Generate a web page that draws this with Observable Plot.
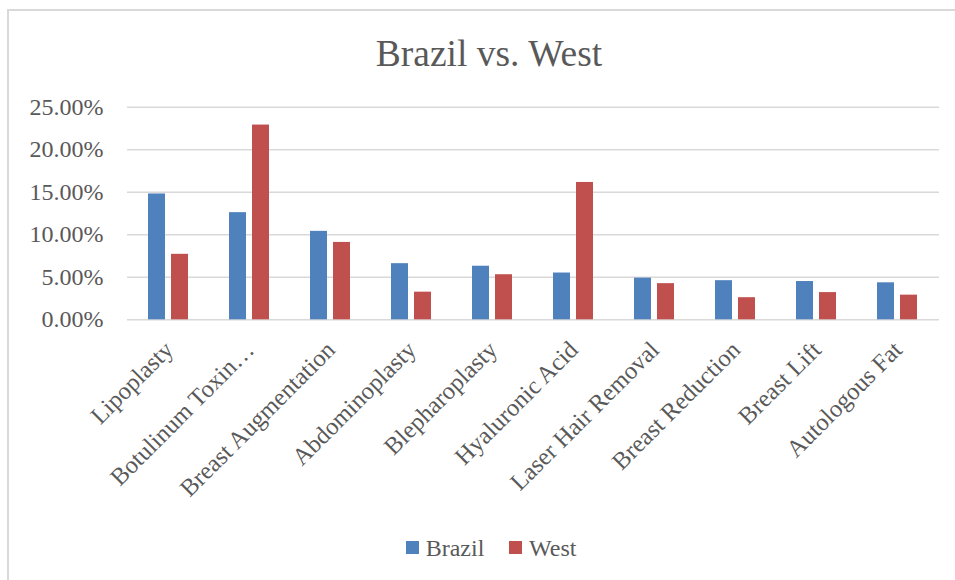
<!DOCTYPE html>
<html><head><meta charset="utf-8">
<script src="https://cdn.jsdelivr.net/npm/d3@7"></script>
<script src="https://cdn.jsdelivr.net/npm/@observablehq/plot@0.6"></script>
<style>
body{margin:0;background:#fff;width:955px;height:580px;overflow:hidden;position:relative;font-family:"Liberation Serif",serif;color:#595959}
#frame{position:absolute;left:7px;top:9px;width:1000px;height:600px;border-top:2px solid #d9d9d9;border-left:2px solid #d9d9d9}
#title{position:absolute;left:0;top:34.5px;width:978px;text-align:center;font-size:37.5px;line-height:37.5px;white-space:nowrap}
.layer{position:absolute;left:0;top:0}
#legend{position:absolute;left:406px;top:535.6px;font-size:24px;line-height:24px;white-space:nowrap}
#legend .sw{display:inline-block;width:13px;height:13px;position:relative;top:-1.4px;margin-right:6.7px}
#legend .item{margin-right:25px}
</style></head><body>
<div id="frame"></div>
<div id="title">Brazil vs. West</div>
<div id="grid" class="layer"></div>
<div id="bars" class="layer"></div>
<div id="legend"></div>
<script>
const categories = ["Lipoplasty","Botulinum Toxin…","Breast Augmentation","Abdominoplasty","Blepharoplasty","Hyaluronic Acid","Laser Hair Removal","Breast Reduction","Breast Lift","Autologous Fat"];
const series = ["Brazil","West"];
const brazil = [0.148,0.126,0.104,0.066,0.063,0.055,0.049,0.046,0.045,0.0435];
const west = [0.077,0.229,0.091,0.0325,0.053,0.1615,0.0425,0.026,0.032,0.029];
const colors = ["#4F81BD","#C0504D"];
const yTicks = [0,0.05,0.10,0.15,0.20,0.25];

const rows = categories.flatMap((c,i)=>[
  {category:c, series:series[0], value:brazil[i]},
  {category:c, series:series[1], value:west[i]}
]);

const common = {
  width:955, height:520,
  marginTop:106.7, marginBottom:200.7, marginLeft:127, marginRight:16
};
const baseStyle = {fontFamily:'"Liberation Serif", serif', color:"#595959", background:"transparent", overflow:"visible"};

// Background layer: y axis labels and gridlines across the full plot width
const gridChart = Plot.plot({
  ...common,
  style:{...baseStyle, fontSize:"24px"},
  x:{domain:categories, axis:null},
  y:{domain:[0,0.25], ticks:yTicks, tickFormat:d3.format(".2%"), label:null, tickSize:0, tickPadding:24},
  marks:[
    Plot.ruleY(yTicks, {stroke:"#d9d9d9", strokeWidth:1.5})
  ]
});
document.getElementById("grid").appendChild(gridChart);

// Foreground layer: grouped bars and category labels
const barChart = Plot.plot({
  ...common,
  style:{...baseStyle, fontSize:"24.5px"},
  fx:{domain:categories, paddingInner:0.49, paddingOuter:0.245, label:null, axis:"bottom", tickRotate:-45, tickSize:0, tickPadding:26},
  x:{domain:series, paddingInner:0.25, paddingOuter:0, axis:null},
  y:{domain:[0,0.25], axis:null},
  color:{domain:series, range:colors},
  marks:[
    Plot.barY(rows, {fx:"category", x:"series", y:"value", fill:"series"})
  ]
});
document.getElementById("bars").appendChild(barChart);

const legend = document.getElementById("legend");
series.forEach((s,i)=>{
  const item = document.createElement("span");
  item.className = "item";
  const sw = document.createElement("span");
  sw.className = "sw";
  sw.style.background = colors[i];
  item.appendChild(sw);
  item.appendChild(document.createTextNode(s));
  legend.appendChild(item);
});
</script>
</body></html>
